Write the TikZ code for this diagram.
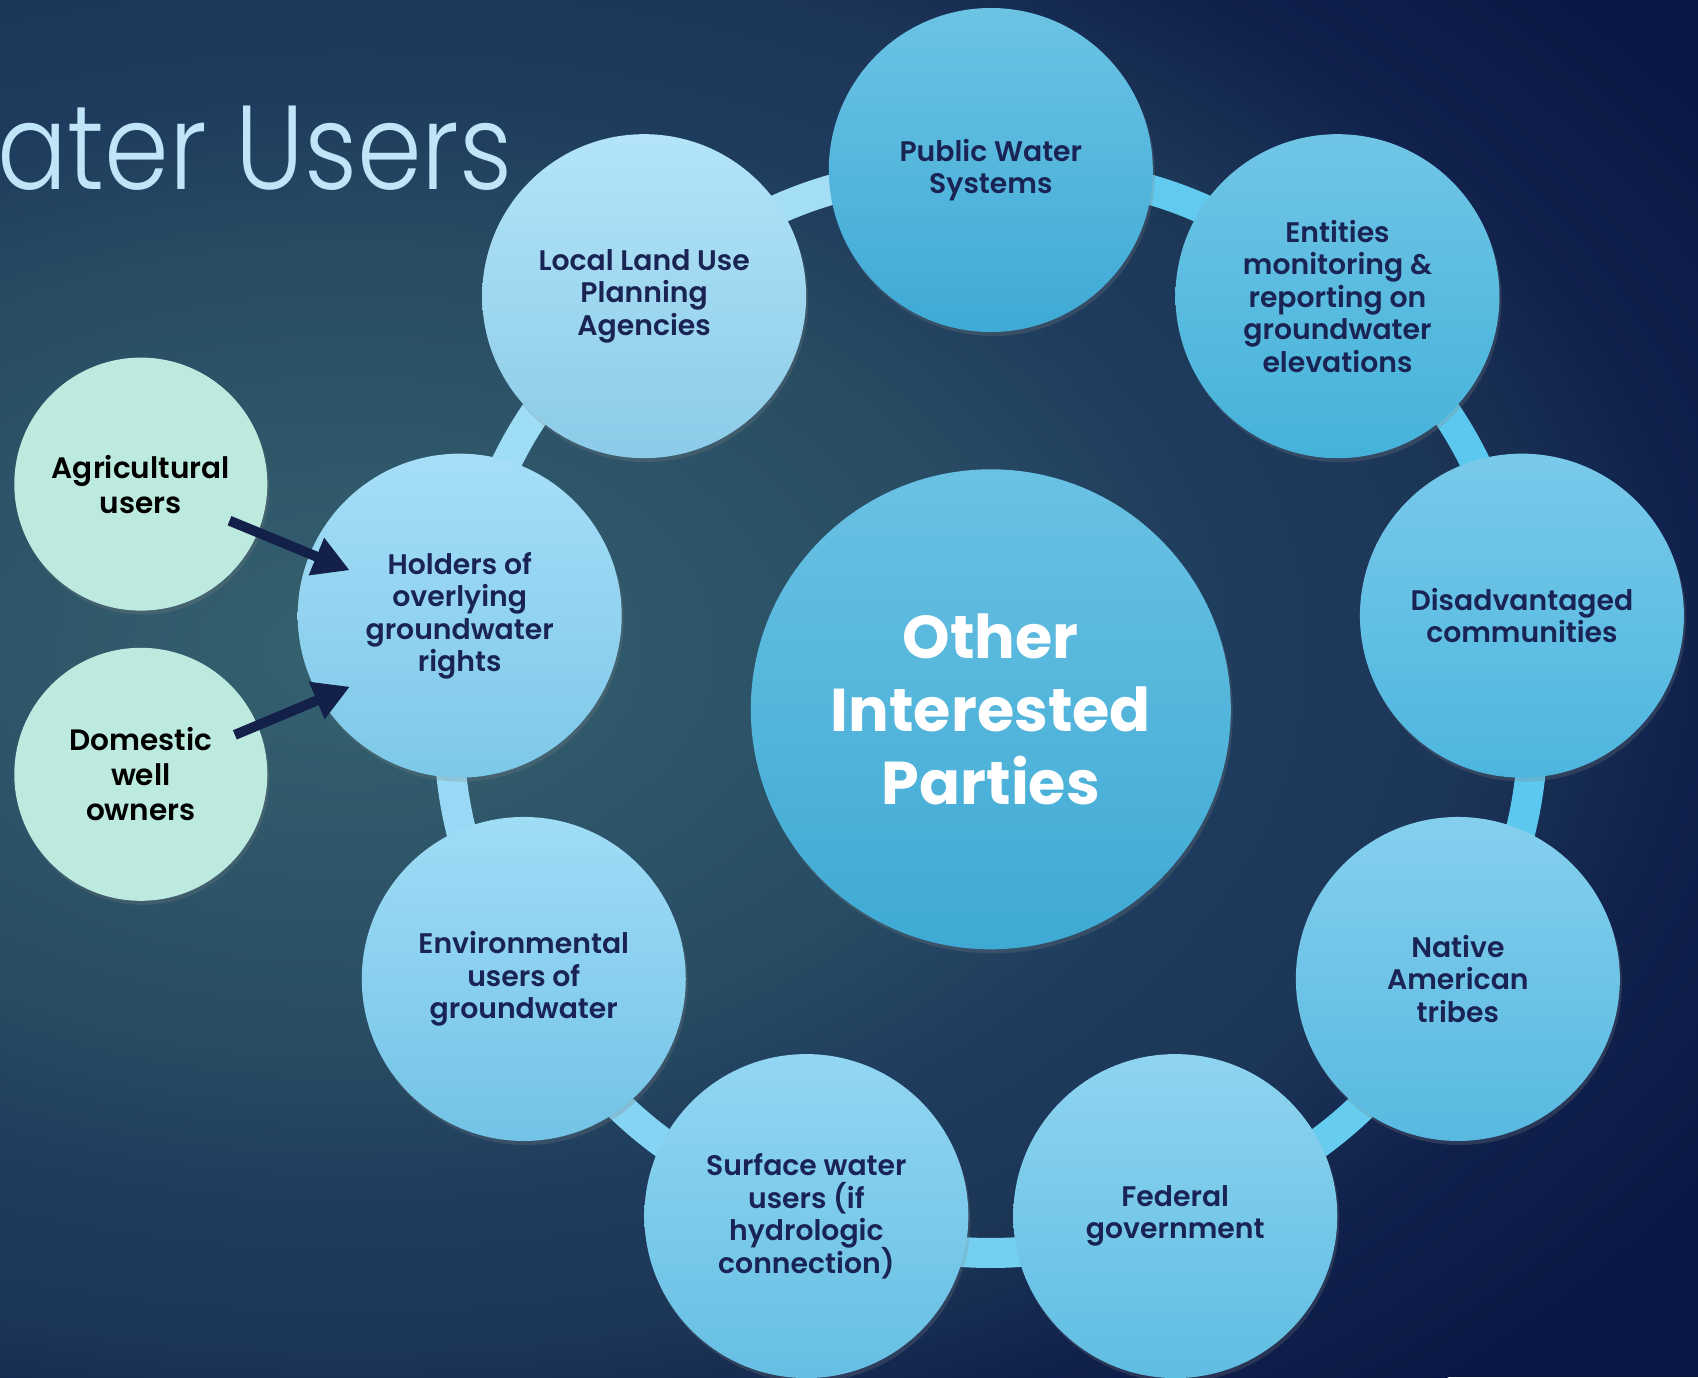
\documentclass[tikz,border=0pt]{standalone}
\usepackage{fontspec}
\setmainfont{Poppins}
\IfFontExistsTF{Poppins SemiBold}{\newfontfamily\lblfont{Poppins SemiBold}}{\newcommand\lblfont{\bfseries}}
\IfFontExistsTF{Poppins Light}{\newfontfamily\ttlfont{Poppins Light}}{\newcommand\ttlfont{}}
\usetikzlibrary{arrows.meta,shadows}

\definecolor{bgnavy}{HTML}{0B1845}
\definecolor{glowA}{HTML}{35626F}
\definecolor{glowB}{HTML}{2D5468}
\definecolor{glowC}{HTML}{284C63}
\definecolor{glowD}{HTML}{1E3B5D}
\definecolor{glowE}{HTML}{1C3657}
\definecolor{glowF}{HTML}{10214C}
\definecolor{pwstop}{HTML}{6CC3E4}
\definecolor{pwsbot}{HTML}{3EAAD6}
\definecolor{enttop}{HTML}{70C5E6}
\definecolor{entbot}{HTML}{45B2DA}
\definecolor{distop}{HTML}{79C9EA}
\definecolor{disbot}{HTML}{4DB6DE}
\definecolor{nattop}{HTML}{85CFEE}
\definecolor{natbot}{HTML}{58B9E0}
\definecolor{fedtop}{HTML}{8FD4F0}
\definecolor{fedbot}{HTML}{5FBDE2}
\definecolor{srftop}{HTML}{92D6F2}
\definecolor{srfbot}{HTML}{66BFE3}
\definecolor{envtop}{HTML}{A0DCF6}
\definecolor{envbot}{HTML}{72C3E6}
\definecolor{holtop}{HTML}{A6DEF8}
\definecolor{holbot}{HTML}{7DC8E8}
\definecolor{llutop}{HTML}{B3E4F9}
\definecolor{llubot}{HTML}{8CCBE8}
\definecolor{hubtop}{HTML}{6AC1E3}
\definecolor{hubbot}{HTML}{3EAAD4}
\definecolor{usergreen}{HTML}{BDEADF}
\definecolor{lbltext}{HTML}{1A2454}
\definecolor{arrownavy}{HTML}{13204A}
\definecolor{titleblue}{HTML}{C0E4F8}
\definecolor{linkA}{HTML}{A4DDF6}
\definecolor{linkB}{HTML}{62C9EF}
\definecolor{linkC}{HTML}{5DC8EF}
\definecolor{linkD}{HTML}{5CC8EF}
\definecolor{linkE}{HTML}{66CCF0}
\definecolor{linkF}{HTML}{74CFF1}
\definecolor{linkG}{HTML}{86D4F3}
\definecolor{linkH}{HTML}{98DAF5}
\definecolor{linkI}{HTML}{9FDCF6}

\pgfdeclareradialshading{bgglow}{\pgfpoint{0bp}{0bp}}{color(0bp)=(glowA); color(6bp)=(glowB); color(10bp)=(glowC); color(14bp)=(glowD); color(17.5bp)=(glowE); color(21bp)=(glowF); color(25bp)=(bgnavy); color(50bp)=(bgnavy)}

\pgfdeclarelayer{bgfill}
\pgfdeclarelayer{links}
\pgfsetlayers{bgfill,links,main}

\tikzset{
	ringnode/.style 2 args={circle, minimum size=3.24cm, inner sep=0pt, align=center, top color=#1, bottom color=#2, text=lbltext, font=\lblfont\fontsize{8.05pt}{9.25pt}\selectfont\lineskiplimit-20pt, drop shadow={opacity=0.25, shadow xshift=0.02cm, shadow yshift=-0.04cm}},
	hubnode/.style={circle, minimum size=4.8cm, inner sep=0pt, align=center, top color=hubtop, bottom color=hubbot, text=white, font=\bfseries\fontsize{17.2pt}{20.8pt}\selectfont\lineskiplimit-20pt, drop shadow={opacity=0.25, shadow xshift=0.02cm, shadow yshift=-0.04cm}},
	usernode/.style={circle, minimum size=2.53cm, inner sep=0pt, align=center, fill=usergreen, text=black, font=\lblfont\fontsize{8.4pt}{9.96pt}\selectfont\lineskiplimit-20pt, drop shadow={opacity=0.25, shadow xshift=0.02cm, shadow yshift=-0.04cm}},
	ringlink/.style={line width=0.3cm, draw=#1},
	feeds/.style={line width=0.1cm, draw=arrownavy, -{Triangle[length=0.36cm,width=0.38cm]}}
}

\begin{document}
\begin{tikzpicture}
	\useasboundingbox (0,0) rectangle (16.98,-13.77);
	\begin{pgfonlayer}{bgfill}
		\fill[bgnavy] (0,0) rectangle (16.98,-13.77);
		\begin{scope}
			\clip (0,0) rectangle (16.98,-13.77);
			\shade[shading=bgglow] (3.5,-6.5) ellipse (16 and 10);
		\end{scope}
	\end{pgfonlayer}
	\node[anchor=base west, inner sep=0pt, text=titleblue, xscale=0.87, transform shape, font=\ttlfont\fontsize{34pt}{36pt}\selectfont] (ttl) at (-0.03,-1.895) {ater Users};
	\node[hubnode] (oip) at (9.908,-7.093) {Other\\Interested\\Parties};
	\node[ringnode={pwstop}{pwsbot}] (pws) at ([shift={(90:5.393)}]oip.center) {Public Water\\Systems};
	\node[ringnode={enttop}{entbot}] (ent) at ([shift={(50:5.393)}]oip.center) {Entities\\monitoring \&\\reporting on\\groundwater\\elevations};
	\node[ringnode={distop}{disbot}] (dis) at ([shift={(10:5.393)}]oip.center) {Disadvantaged\\communities};
	\node[ringnode={nattop}{natbot}] (nat) at ([shift={(-30:5.393)}]oip.center) {Native\\American\\tribes};
	\node[ringnode={fedtop}{fedbot}] (fed) at ([shift={(-70:5.393)}]oip.center) {Federal\\government};
	\node[ringnode={srftop}{srfbot}] (srf) at ([shift={(-110:5.393)}]oip.center) {Surface water\\users (if\\hydrologic\\connection)};
	\node[ringnode={envtop}{envbot}] (env) at ([shift={(-150:5.393)}]oip.center) {Environmental\\users of\\groundwater};
	\node[ringnode={holtop}{holbot}] (hol) at ([shift={(170:5.393)}]oip.center) {Holders of\\overlying\\groundwater\\rights};
	\node[ringnode={llutop}{llubot}] (llu) at ([shift={(130:5.393)}]oip.center) {Local Land Use\\Planning\\Agencies};
	\node[usernode] (agr) at (1.408,-4.841) {Agricultural\\users};
	\node[usernode] (dom) at (1.408,-7.743) {Domestic\\well\\owners};
	\begin{pgfonlayer}{links}
		\draw[ringlink=linkA] (llu.center) to[bend left=20] (pws.center);
		\draw[ringlink=linkB] (pws.center) to[bend left=20] (ent.center);
		\draw[ringlink=linkC] (ent.center) to[bend left=20] (dis.center);
		\draw[ringlink=linkD] (dis.center) to[bend left=20] (nat.center);
		\draw[ringlink=linkE] (nat.center) to[bend left=20] (fed.center);
		\draw[ringlink=linkF] (fed.center) to[bend left=20] (srf.center);
		\draw[ringlink=linkG] (srf.center) to[bend left=20] (env.center);
		\draw[ringlink=linkH] (env.center) to[bend left=20] (hol.center);
		\draw[ringlink=linkI] (hol.center) to[bend left=20] (llu.center);
	\end{pgfonlayer}
	\draw[feeds, shorten <=0.96cm, shorten >=1.19cm] (agr.center) -- (hol.center);
	\draw[feeds, shorten <=1.02cm, shorten >=1.19cm] (dom.center) -- ([yshift=-0.25cm]hol.center);
\end{tikzpicture}
\end{document}
